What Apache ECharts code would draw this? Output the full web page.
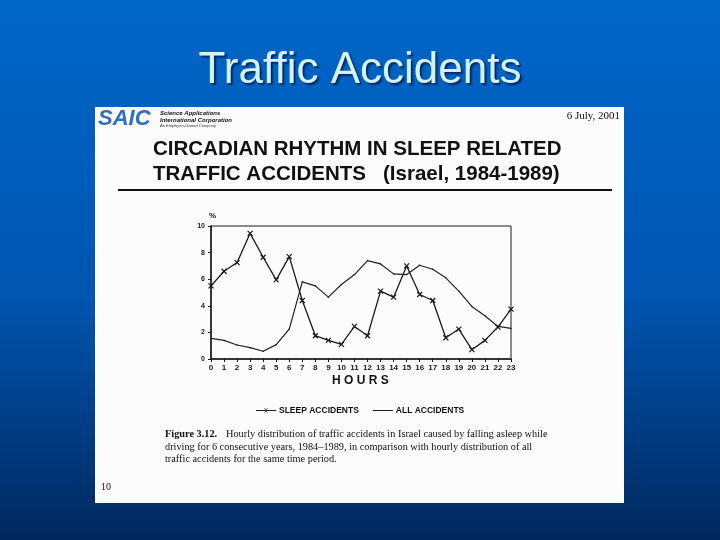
<!DOCTYPE html>
<html><head><meta charset="utf-8">
<script src="https://cdn.jsdelivr.net/npm/echarts@6/dist/echarts.min.js"></script>
<style>html,body{margin:0;padding:0;}#c{width:720px;height:540px;}</style>
</head><body><div id="c"></div>
<script>
const hours = ['0','1','2','3','4','5','6','7','8','9','10','11','12','13','14','15','16','17','18','19','20','21','22','23'];
const sleepAccidents = [5.5,6.6,7.25,9.45,7.65,5.95,7.7,4.4,1.75,1.4,1.1,2.45,1.75,5.1,4.65,7.0,4.85,4.4,1.6,2.25,0.7,1.4,2.4,3.75];
const allAccidents = [1.55,1.4,1.05,0.85,0.58,1.08,2.25,5.8,5.5,4.65,5.6,6.35,7.4,7.15,6.4,6.35,7.05,6.75,6.1,5.1,3.95,3.25,2.45,2.3];
const yTicks = [0,2,4,6,8,10];

const chart = echarts.init(document.getElementById('c'));
const xPath = 'path://M0,0L10,10M10,0L0,10';
const ink = '#1a1a1a';
const boxPts = 'M0,0L0,0Z M20,8L20,8Z ';
chart.setOption({
  animation: false,
  backgroundColor: {type:'linear',x:0,y:0,x2:0,y2:1,colorStops:[{offset:0,color:'#0067c9'},{offset:0.55,color:'#0055b0'},{offset:1,color:'#00285e'}]},
  title: {text:'Traffic Accidents', left:'center', top:44,
    textStyle:{color:'#d2f2ff', fontFamily:'Liberation Sans', fontWeight:'normal', fontSize:44,
      textShadowColor:'rgba(0,0,30,0.6)', textShadowOffsetX:2, textShadowOffsetY:2, textShadowBlur:2}},
  graphic: [
    {type:'rect', z:-10, shape:{x:95,y:107,width:529,height:396}, style:{fill:'#fcfcfc'}},
    {type:'text', left:98, top:108, style:{text:'SAIC', font:'italic bold 22px Liberation Sans', fill:'#2f6fc0'}},
    {type:'text', left:160, top:110, style:{text:'Science Applications\nInternational Corporation', font:'italic bold 6px Liberation Sans', fill:'#111', lineHeight:7}},
    {type:'text', left:160, top:124, style:{text:'An Employee-Owned Company', font:'italic 4px Liberation Sans', fill:'#333'}},
    {type:'text', right:100, top:111, style:{text:'6 July, 2001', font:'11px Liberation Serif', fill:'#111'}},
    {type:'text', left:153, top:137, style:{text:'CIRCADIAN RHYTHM IN SLEEP RELATED\nTRAFFIC ACCIDENTS   (Israel, 1984-1989)', font:'bold 20.5px Liberation Sans', fill:'#111', lineHeight:25}},
    {type:'line', shape:{x1:118,y1:190,x2:612,y2:190}, style:{stroke:'#111', lineWidth:2}},
    {type:'text', left:209, top:212, style:{text:'%', font:'bold 8px Liberation Sans', fill:'#111'}},
    {type:'text', left:332, top:375, style:{text:'H O U R S', font:'bold 12px Liberation Sans', fill:'#111'}},
    {type:'text', left:165, top:429, style:{text:'Figure 3.12.', font:'bold 10.3px Liberation Serif', fill:'#111'}},
    {type:'text', left:226, top:429, style:{text:'Hourly distribution of traffic accidents in Israel caused by falling asleep while', font:'10.3px Liberation Serif', fill:'#111'}},
    {type:'text', left:165, top:442, style:{text:'driving for 6 consecutive years, 1984–1989, in comparison with hourly distribution of all', font:'10.3px Liberation Serif', fill:'#111'}},
    {type:'text', left:165, top:454, style:{text:'traffic accidents for the same time period.', font:'10.3px Liberation Serif', fill:'#111'}},
    {type:'text', left:101, top:482, style:{text:'10', font:'10px Liberation Serif', fill:'#111'}}
  ],
  legend: {left:251, top:401, itemWidth:20, itemHeight:8, itemGap:14,
    textStyle:{fontFamily:'Liberation Sans', fontWeight:'bold', fontSize:8.5, color:'#111', padding:[0,0,0,-2]},
    data:[{name:'SLEEP ACCIDENTS', itemStyle:{borderWidth:0, color:ink}, icon:'path://' + boxPts + 'M0,3.6L20,3.6L20,4.4L0,4.4Z M8.2,1.6L8.8,1.6L10,3.2L11.2,1.6L11.8,1.6L10.4,3.6L10.4,4.4L11.8,6.4L11.2,6.4L10,4.8L8.8,6.4L8.2,6.4L9.6,4.4L9.6,3.6Z'},
      {name:'ALL ACCIDENTS', itemStyle:{borderWidth:0, color:'#222'}, icon:'path://' + boxPts + 'M0,3.6L20,3.6L20,4.4L0,4.4Z'}]},
  grid: {left:211, right:209, top:226, bottom:181, show:true, borderColor:ink, borderWidth:1, backgroundColor:'transparent'},
  xAxis: {type:'category', data:hours, boundaryGap:false,
    axisLine:{lineStyle:{color:ink, width:1.5}}, axisTick:{alignWithLabel:true, length:3, lineStyle:{color:ink}},
    axisLabel:{color:ink, fontFamily:'Liberation Sans', fontWeight:'bold', fontSize:8, margin:5, interval:0}},
  yAxis: {type:'value', min:yTicks[0], max:yTicks[yTicks.length-1], interval:2,
    axisLine:{show:true, lineStyle:{color:ink, width:1.5}}, axisTick:{show:true, length:3, lineStyle:{color:ink}},
    splitLine:{show:false},
    axisLabel:{color:ink, fontFamily:'Liberation Sans', fontWeight:'bold', fontSize:7, margin:6}},
  series: [
    {name:'SLEEP ACCIDENTS', type:'line', data:sleepAccidents, symbol:xPath, symbolSize:5,
      lineStyle:{color:ink, width:1.3}, itemStyle:{color:ink, borderColor:ink, borderWidth:1.2}},
    {name:'ALL ACCIDENTS', type:'line', data:allAccidents, symbol:'circle', symbolSize:1.5, showSymbol:true,
      lineStyle:{color:'#222', width:1.2}, itemStyle:{color:'#222'}}
  ]
});
</script></body></html>
